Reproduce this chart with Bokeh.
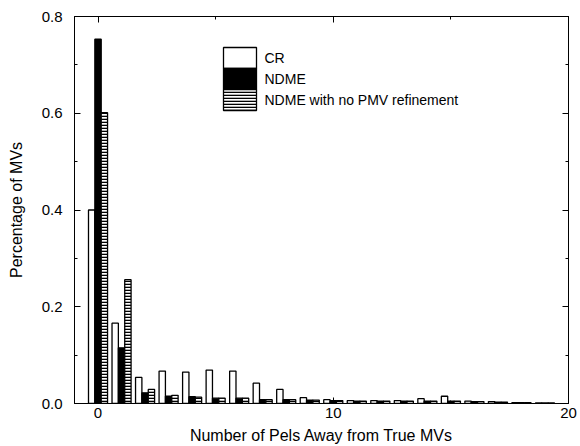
from bokeh.plotting import figure
from bokeh.models import (ColumnDataSource, Range1d, LinearAxis, FixedTicker,
                          CustomJSTickFormatter, BoxAnnotation, Label)
from bokeh.transform import dodge
from bokeh.embed import file_html
from bokeh.resources import INLINE

# Distance (in pels) between the estimated and the true motion vectors
pels = list(range(20))

cr = [0.400, 0.166, 0.054, 0.067, 0.065, 0.069, 0.067, 0.042, 0.029, 0.012,
      0.008, 0.006, 0.006, 0.006, 0.010, 0.015, 0.005, 0.004, 0.002, 0.001]
ndme = [0.753, 0.115, 0.022, 0.015, 0.014, 0.011, 0.011, 0.008, 0.008, 0.007,
        0.006, 0.005, 0.005, 0.005, 0.005, 0.005, 0.004, 0.003, 0.002, 0.001]
ndme_no_pmv = [0.601, 0.256, 0.029, 0.017, 0.013, 0.011, 0.011, 0.008, 0.008, 0.007,
               0.006, 0.005, 0.005, 0.005, 0.005, 0.005, 0.004, 0.003, 0.002, 0.001]

x_ticks = [0, 10, 20]
x_minor = [5, 15]
y_ticks = [0.0, 0.2, 0.4, 0.6, 0.8]
y_minor = [0.1, 0.3, 0.5, 0.7]

series_names = ["CR", "NDME", "NDME with no PMV refinement"]

src = ColumnDataSource(dict(x=pels, cr=cr, ndme=ndme, nopmv=ndme_no_pmv))

FONT = "Liberation Sans"

p = figure(width=580, height=446, output_backend="svg", toolbar_location=None,
           x_range=Range1d(-1, 20), y_range=Range1d(0, 0.8),
           min_border_left=74, min_border_right=12, min_border_top=16,
           min_border_bottom=42, x_axis_location=None, y_axis_location=None)
p.grid.visible = False
p.outline_line_color = "black"
p.outline_line_width = 1
p.background_fill_color = "white"
p.border_fill_color = "white"

BW = 0.27
BAR_STYLES = [
    dict(fill_color="white", line_color="black", line_width=1.3),
    dict(fill_color="black", line_color="black", line_width=1.3),
    dict(fill_color="white", line_color="black", line_width=1.3,
         hatch_pattern="horizontal_line", hatch_color="black",
         hatch_scale=3, hatch_weight=1.6),
]
p.vbar(x=dodge("x", -BW, range=p.x_range), top="cr", width=BW, source=src,
       **BAR_STYLES[0])
p.vbar(x="x", top="ndme", width=BW, source=src, **BAR_STYLES[1])
p.vbar(x=dodge("x", BW, range=p.x_range), top="nopmv", width=BW, source=src,
       **BAR_STYLES[2])


def style_axis(ax, major, minor, show_labels, label=None):
    ax.ticker = FixedTicker(ticks=major, minor_ticks=minor)
    ax.major_tick_in = 6
    ax.major_tick_out = 0
    ax.minor_tick_in = 3
    ax.minor_tick_out = 0
    ax.axis_line_color = "black"
    ax.major_tick_line_color = "black"
    ax.minor_tick_line_color = "black"
    ax.major_label_text_font = FONT
    ax.major_label_text_font_size = "15px"
    ax.major_label_text_color = "black"
    if not show_labels:
        ax.major_label_text_font_size = "0px"
        ax.major_label_text_alpha = 0
    if label:
        ax.axis_label = label
        ax.axis_label_text_font = FONT
        ax.axis_label_text_font_size = "16px"
        ax.axis_label_text_font_style = "normal"
        ax.axis_label_text_color = "black"


xb = LinearAxis()
style_axis(xb, x_ticks, x_minor, True, "Number of Pels Away from True MVs")
xb.major_label_standoff = 4
xb.axis_label_standoff = 6
p.add_layout(xb, "below")

yl = LinearAxis()
style_axis(yl, y_ticks, y_minor, True, "Percentage of MVs")
yl.formatter = CustomJSTickFormatter(code="return tick.toFixed(1);")
yl.major_label_standoff = 12
yl.axis_label_standoff = 14
p.add_layout(yl, "left")

xt = LinearAxis()
style_axis(xt, x_ticks, x_minor, False)
p.add_layout(xt, "above")

yr = LinearAxis()
style_axis(yr, y_ticks, y_minor, False)
p.add_layout(yr, "right")

# Key: swatches stacked edge to edge, placed in screen pixels measured
# from the frame's lower-left corner, with a label beside each one.
LEG_X, LEG_Y = 149, 293
SW_W, SW_H = 33, 21

for i, (style, name) in enumerate(zip(BAR_STYLES, series_names)):
    top = LEG_Y + SW_H * (3 - i)
    p.add_layout(BoxAnnotation(left=LEG_X, right=LEG_X + SW_W,
                               bottom=top - SW_H, top=top,
                               left_units="screen", right_units="screen",
                               bottom_units="screen", top_units="screen",
                               fill_alpha=1, line_alpha=1, editable=False,
                               propagate_hover=False, **style))
    p.add_layout(Label(x=LEG_X + SW_W + 8, y=top - SW_H / 2, text=name,
                       x_units="screen", y_units="screen",
                       text_baseline="middle", text_align="left",
                       text_font=FONT, text_font_size="14px",
                       text_color="black"))

open("out.html", "w").write(file_html(p, INLINE))
